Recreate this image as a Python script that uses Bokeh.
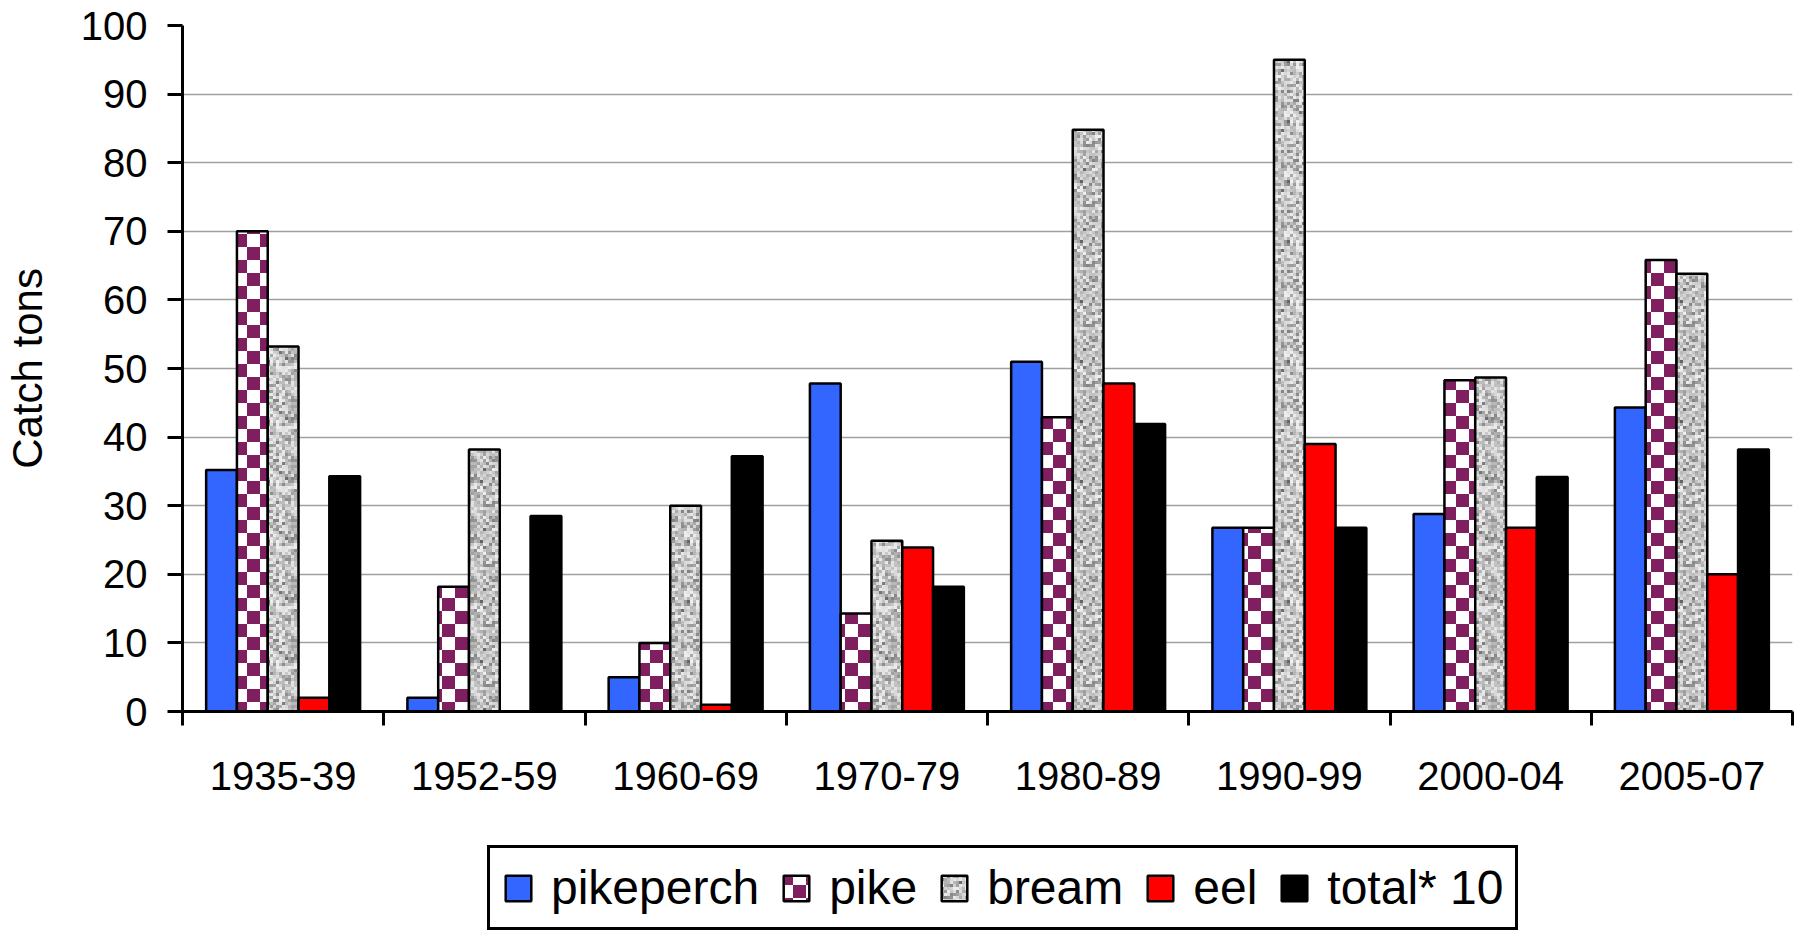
from bokeh.plotting import figure
from bokeh.layouts import column
from bokeh.models import ColumnDataSource, Legend, LegendItem, FixedTicker, Range1d, CanvasTexture
from bokeh.transform import dodge
from bokeh.core.properties import value
from bokeh.embed import file_html
from bokeh.resources import INLINE

# ---- data ----
categories = ["1935-39", "1952-59", "1960-69", "1970-79", "1980-89", "1990-99", "2000-04", "2005-07"]
pikeperch = [35.2, 2.0, 5.0, 47.8, 51.0, 26.8, 28.8, 44.3]
pike = [70.0, 18.2, 10.0, 14.3, 42.9, 26.8, 48.3, 65.8]
bream = [53.2, 38.2, 30.0, 24.9, 84.8, 95.0, 48.7, 63.8]
eel = [2.0, 0.0, 1.0, 23.9, 47.8, 39.0, 26.8, 20.0]
total = [34.3, 28.5, 37.2, 18.2, 41.9, 26.8, 34.2, 38.2]
series_labels = ["pikeperch", "pike", "bream", "eel", "total* 10"]
y_ticks = [0, 10, 20, 30, 40, 50, 60, 70, 80, 90, 100]

FONT = "Liberation Sans"

centers = [i + 0.5 for i in range(len(categories))]
src = ColumnDataSource(dict(x=centers, pikeperch=pikeperch, pike=pike, bream=bream, eel=eel, total=total))

checker_js = """
var c = ctx.canvas;
c.width = 26; c.height = 26;
ctx.fillStyle = '#FFFFFF';
ctx.fillRect(0, 0, 26, 26);
ctx.fillStyle = '#7F1F5F';
ctx.fillRect(0, 0, 13, 13);
ctx.fillRect(13, 13, 13, 13);
"""

noise_js = """
var c = ctx.canvas;
var n = 60, b = 3;
c.width = n; c.height = n;
for (var y = 0; y < n; y += b) {
  for (var x = 0; x < n; x += b) {
    var s = Math.sin(x * 12.9898 + y * 78.233) * 43758.5453;
    var r = s - Math.floor(s);
    var g = Math.round(100 + 140 * Math.sqrt(r));
    ctx.fillStyle = 'rgb(' + g + ',' + g + ',' + g + ')';
    ctx.fillRect(x, y, b, b);
  }
}
"""

bw = 0.153
offsets = [-2 * bw, -bw, 0.0, bw, 2 * bw]


def add_bars(fig):
    common = dict(source=src, width=bw, bottom=0, line_color="black", line_width=2.5)
    r1 = fig.vbar(x=dodge("x", offsets[0], range=fig.x_range), top="pikeperch", fill_color="#3366FF", **common)
    r2 = fig.vbar(x=dodge("x", offsets[1], range=fig.x_range), top="pike", fill_color="white",
                  hatch_pattern=value("checker"), hatch_color="#7F1F5F", hatch_scale=26,
                  hatch_extra={"checker": CanvasTexture(code=checker_js)}, **common)
    r3 = fig.vbar(x=dodge("x", offsets[2], range=fig.x_range), top="bream", fill_color="#b8b8b8",
                  hatch_pattern=value("noise"), hatch_color="#808080", hatch_scale=60,
                  hatch_extra={"noise": CanvasTexture(code=noise_js)}, **common)
    r4 = fig.vbar(x=dodge("x", offsets[3], range=fig.x_range), top="eel", fill_color="#FF0000", **common)
    r5 = fig.vbar(x=dodge("x", offsets[4], range=fig.x_range), top="total", fill_color="black", **common)
    return [r1, r2, r3, r4, r5]


p = figure(width=1794, height=840,
           x_range=Range1d(0, len(categories)), y_range=Range1d(0, 100),
           output_backend="svg", toolbar_location=None,
           min_border_top=25, min_border_right=2, min_border_left=177, min_border_bottom=129)
p.outline_line_color = None
p.background_fill_color = "white"
p.border_fill_color = "white"
add_bars(p)

# y axis
yax = p.yaxis[0]
yax.ticker = FixedTicker(ticks=y_ticks)
yax.axis_label = "Catch tons"
yax.axis_label_text_font = FONT
yax.axis_label_text_font_size = "42px"
yax.axis_label_text_font_style = "normal"
yax.axis_label_text_color = "black"
yax.axis_label_standoff = 27
yax.major_label_text_font = FONT
yax.major_label_text_font_size = "40px"
yax.major_label_text_color = "black"
yax.major_label_standoff = 20
yax.major_tick_out = 15
yax.major_tick_in = 0
yax.major_tick_line_width = 3
yax.major_tick_line_color = "black"
yax.minor_tick_line_color = None
yax.axis_line_width = 3
yax.axis_line_color = "black"

# x axis: labels at centers, ticks at category boundaries
xax = p.xaxis[0]
xax.ticker = FixedTicker(ticks=centers, minor_ticks=list(range(len(categories) + 1)))
xax.major_label_overrides = {c: lab for c, lab in zip(centers, categories)}
xax.major_label_text_font = FONT
xax.major_label_text_font_size = "40px"
xax.major_label_text_color = "black"
xax.major_label_standoff = 36
xax.major_tick_out = 0
xax.major_tick_in = 0
xax.major_tick_line_color = None
xax.minor_tick_out = 14
xax.minor_tick_in = 0
xax.minor_tick_line_width = 3
xax.minor_tick_line_color = "black"
xax.axis_line_width = 3
xax.axis_line_color = "black"

p.ygrid.grid_line_color = "#a0a0a0"
p.ygrid.grid_line_width = 1.5
p.xgrid.grid_line_color = None

# legend strip: the same series drawn small, hidden behind the opaque legend box (only swatches show)
leg = figure(width=1794, height=90,
             x_range=Range1d(-4, 12.08), y_range=Range1d(-27, 133),
             output_backend="svg", toolbar_location=None,
             min_border_top=0, min_border_right=0, min_border_left=0, min_border_bottom=0)
leg.axis.visible = False
leg.grid.visible = False
leg.outline_line_color = None
leg.background_fill_color = "white"
leg.border_fill_color = "white"
leg_renderers = add_bars(leg)

legend = Legend(items=[LegendItem(label=lab, renderers=[r]) for lab, r in zip(series_labels, leg_renderers)],
                orientation="horizontal", location=(305, 0))
legend.border_line_color = "black"
legend.border_line_alpha = 1.0
legend.border_line_width = 3
legend.padding = 12
legend.spacing = 21
legend.label_standoff = 17
legend.glyph_width = 32
legend.glyph_height = 32
legend.label_text_font = FONT
legend.label_text_font_size = "48px"
legend.label_text_color = "black"
legend.margin = 0
legend.background_fill_color = "white"
legend.background_fill_alpha = 1.0
leg.add_layout(legend, "center")

layout = column(p, leg, spacing=0)
open("out.html", "w").write(file_html(layout, INLINE))
